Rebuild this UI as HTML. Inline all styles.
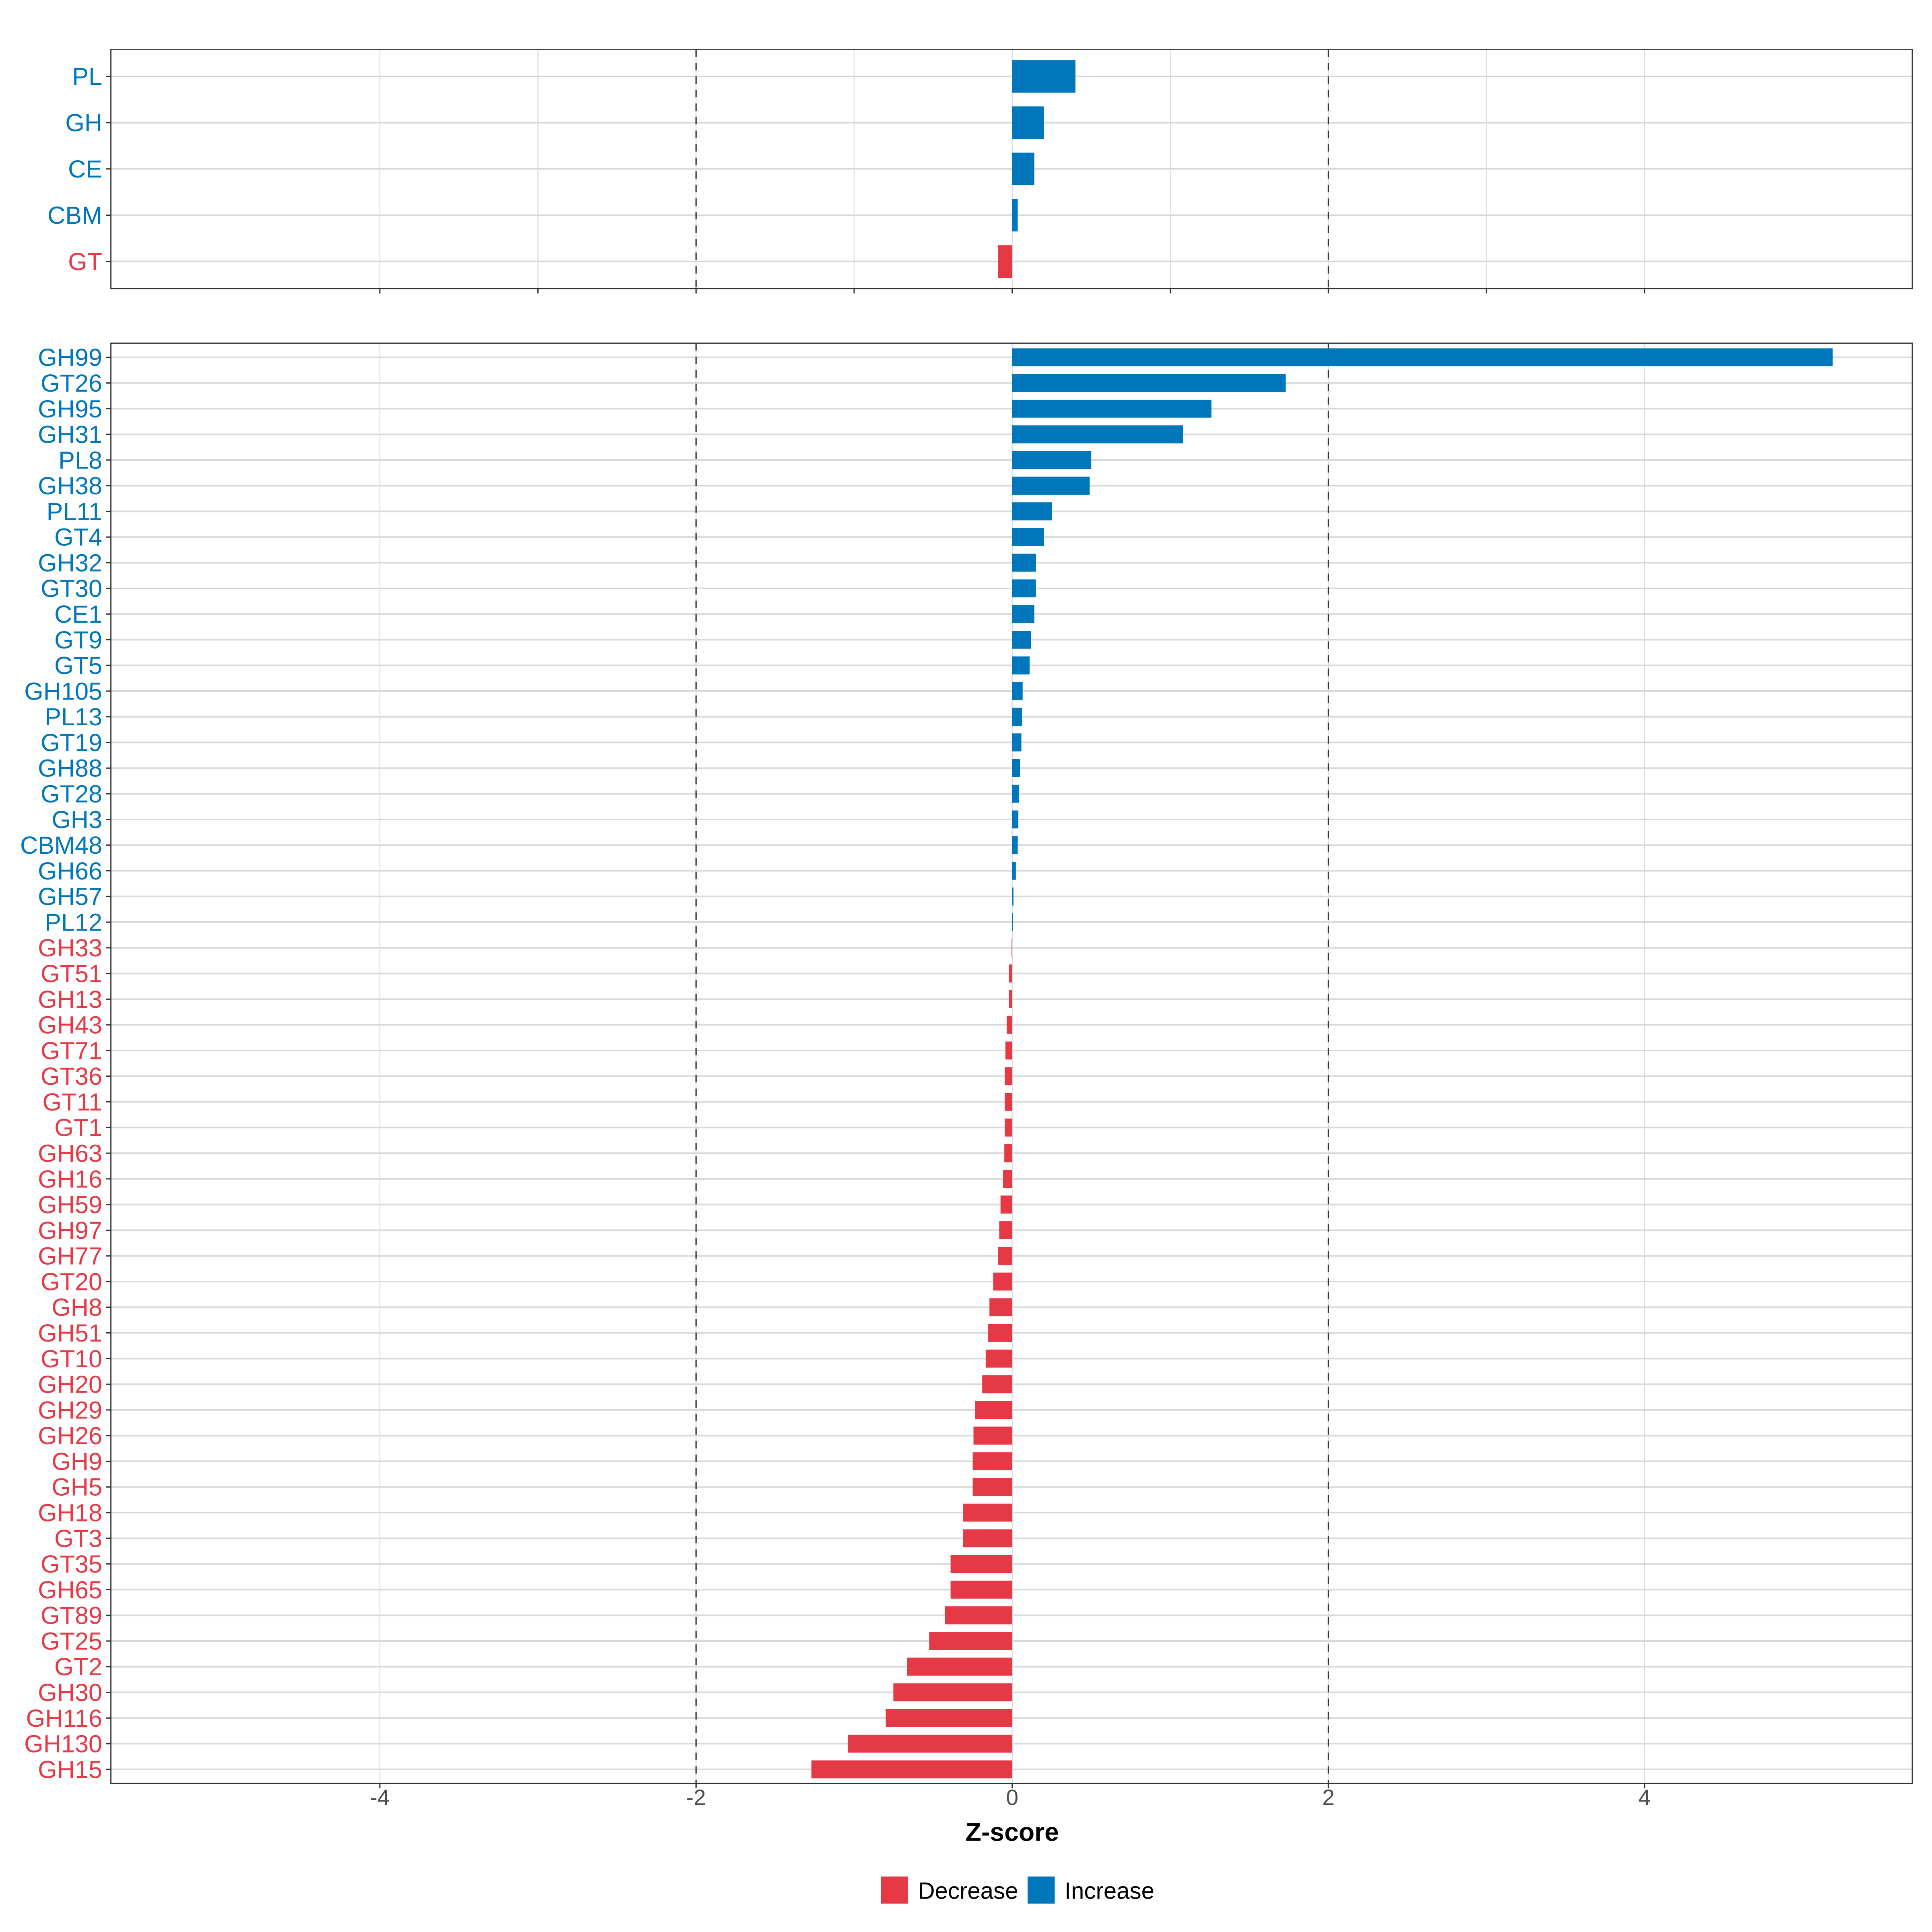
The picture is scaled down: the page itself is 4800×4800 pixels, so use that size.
<!DOCTYPE html>
<html><head><meta charset="utf-8"><style>html,body{margin:0;padding:0;background:#fff}svg{display:block}</style></head>
<body>
<svg id="chart" xmlns="http://www.w3.org/2000/svg" width="4800" height="4800" viewBox="0 0 1568 1568" font-family="'Liberation Sans', sans-serif">
<g id="top-panel"></g>
<g id="bottom-panel"></g>
<g id="x-axis"></g>
<text x="821.5" y="1494" text-anchor="middle" font-size="21" font-weight="bold" fill="#000">Z-score</text>
<g>
<rect x="715" y="1523" width="22" height="22" fill="#E63946"/>
<text x="745" y="1541" font-size="19" fill="#000">Decrease</text>
<rect x="834" y="1523" width="22" height="22" fill="#0077BB"/>
<text x="864" y="1541" font-size="19" fill="#000">Increase</text>
</g>
</svg>
<script>
const topCategories = ["PL","GH","CE","CBM","GT"];
const topValues = [0.40,0.20,0.14,0.035,-0.09];
const bottomCategories = ["GH99","GT26","GH95","GH31","PL8","GH38","PL11","GT4","GH32","GT30","CE1","GT9","GT5","GH105","PL13","GT19","GH88","GT28","GH3","CBM48","GH66","GH57","PL12","GH33","GT51","GH13","GH43","GT71","GT36","GT11","GT1","GH63","GH16","GH59","GH97","GH77","GT20","GH8","GH51","GT10","GH20","GH29","GH26","GH9","GH5","GH18","GT3","GT35","GH65","GT89","GT25","GT2","GH30","GH116","GH130","GH15"];
const bottomValues = [5.19,1.73,1.26,1.08,0.50,0.49,0.25,0.20,0.15,0.15,0.14,0.12,0.11,0.066,0.062,0.058,0.05,0.043,0.039,0.035,0.023,0.008,0.004,-0.004,-0.02,-0.02,-0.035,-0.043,-0.047,-0.047,-0.047,-0.05,-0.058,-0.074,-0.082,-0.09,-0.12,-0.144,-0.152,-0.168,-0.19,-0.236,-0.245,-0.25,-0.25,-0.31,-0.31,-0.39,-0.39,-0.425,-0.525,-0.666,-0.752,-0.80,-1.04,-1.27];
const xTickValues = [-4,-2,0,2,4];
const xTickLabels = ["-4","-2","0","2","4"];
const xMinorValues = [-3,-1,1,3];
const thresholds = [-2,2];

const NS = "http://www.w3.org/2000/svg";
const X0 = 821.5, XU = 128.3;
const PX1 = 90, PX2 = 1552;
function xs(v){ return X0 + v*XU; }
function mk(parent, tag, attrs){ const e=document.createElementNS(NS,tag); for(const k in attrs) e.setAttribute(k,attrs[k]); parent.appendChild(e); return e; }
const BLUE="#0077BB", RED="#E63946";

function panel(g, cats, vals, y1, y2, firstY, step, barH, minorGrid, allTicks){
  mk(g,"rect",{x:PX1,y:y1,width:PX2-PX1,height:y2-y1,fill:"#fff"});
  const vlines = minorGrid ? xTickValues.concat(xMinorValues) : xTickValues;
  vlines.forEach(v=>{ mk(g,"line",{x1:xs(v),x2:xs(v),y1:y1,y2:y2,stroke:"#dcdcdc","stroke-width":0.8}); });
  cats.forEach((c,i)=>{
    const y = firstY + i*step;
    mk(g,"line",{x1:PX1,x2:PX2,y1:y,y2:y,stroke:"#d9d9d9","stroke-width":1.3});
  });
  thresholds.forEach(v=>{
    const l = mk(g,"line",{x1:xs(v),x2:xs(v),y1:y1,y2:y2,stroke:"#333","stroke-width":1,"stroke-dasharray":"6,5"});
    
    
  });
  cats.forEach((c,i)=>{
    const y = firstY + i*step;
    const v = vals[i];
    const col = v>=0 ? BLUE : RED;
    const bx = Math.min(xs(0), xs(v)), bw = Math.abs(xs(v)-xs(0));
    const r = mk(g,"rect",{x:bx,y:y-barH/2,width:Math.max(bw,0.3),height:barH,fill:col});
    
    
    mk(g,"line",{x1:PX1-4,x2:PX1,y1:y,y2:y,stroke:"#333","stroke-width":1});
    const t = mk(g,"text",{x:PX1-7,y:y+7,"text-anchor":"end","font-size":20,fill:col});
    t.textContent = c;
    
    
  });
  mk(g,"rect",{x:PX1,y:y1,width:PX2-PX1,height:y2-y1,fill:"none",stroke:"#333","stroke-width":0.9});
  const ticks = allTicks ? xTickValues.concat(xMinorValues) : xTickValues;
  ticks.forEach(v=>{ mk(g,"line",{x1:xs(v),x2:xs(v),y1:y2,y2:y2+4,stroke:"#333","stroke-width":1}); });
}

panel(document.getElementById("top-panel"), topCategories, topValues, 40, 234.2, 62, 37.55, 26.4, true, true);
panel(document.getElementById("bottom-panel"), bottomCategories, bottomValues, 278.5, 1447.4, 290, (1436-290)/55, 14.6, false, false);

const xa = document.getElementById("x-axis");
xTickValues.forEach((v,i)=>{
  const t = mk(xa,"text",{x:xs(v),y:1465,"text-anchor":"middle","font-size":18,fill:"#4d4d4d"});
  t.textContent = xTickLabels[i];
  
  
});
</script>
</body></html>
